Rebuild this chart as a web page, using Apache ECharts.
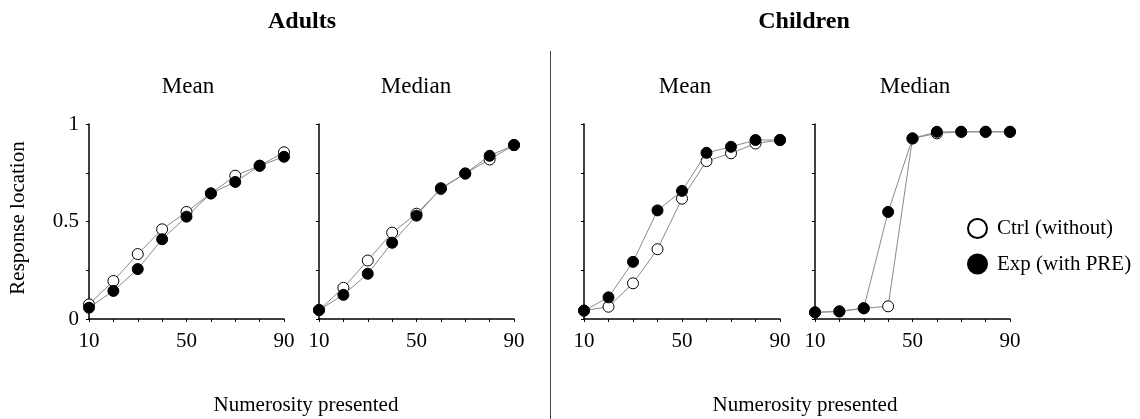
<!DOCTYPE html>
<html>
<head>
<meta charset="utf-8">
<script src="https://cdn.jsdelivr.net/npm/echarts@6/dist/echarts.min.js"></script>
<style>html,body{margin:0;padding:0;background:#fff}#c{width:1140px;height:419px}</style>
</head>
<body>
<div id="c"></div>
<script>
const numerosity = [10, 20, 30, 40, 50, 60, 70, 80, 90];
const xTickLabels = [10, 50, 90];
const yTickLabels = [0, 0.5, 1];
const seriesNames = ['Ctrl (without)', 'Exp (with PRE)'];
const groupTitles = ['Adults', 'Children'];
const panelTitles = ['Mean', 'Median', 'Mean', 'Median'];

const adultsMeanCtrl = [0.075, 0.195, 0.333, 0.46, 0.549, 0.644, 0.735, 0.786, 0.855];
const adultsMeanExp = [0.058, 0.144, 0.256, 0.409, 0.525, 0.644, 0.703, 0.786, 0.832];
const adultsMedianCtrl = [0.046, 0.16, 0.30, 0.443, 0.54, 0.667, 0.746, 0.818, 0.892];
const adultsMedianExp = [0.046, 0.124, 0.232, 0.391, 0.53, 0.671, 0.746, 0.837, 0.892];
const childrenMeanCtrl = [0.043, 0.063, 0.183, 0.358, 0.617, 0.81, 0.85, 0.9, 0.918];
const childrenMeanExp = [0.043, 0.111, 0.293, 0.557, 0.657, 0.852, 0.883, 0.918, 0.918];
const childrenMedianCtrl = [0.034, 0.039, 0.055, 0.065, 0.926, 0.952, 0.96, 0.96, 0.96];
const childrenMedianExp = [0.034, 0.039, 0.055, 0.549, 0.926, 0.96, 0.96, 0.96, 0.96];

const panels = [
  [adultsMeanCtrl, adultsMeanExp],
  [adultsMedianCtrl, adultsMedianExp],
  [childrenMeanCtrl, childrenMeanExp],
  [childrenMedianCtrl, childrenMedianExp]
];

const FONT = '"Liberation Serif", "Times New Roman", serif';
const gridLefts = [89, 319, 584, 815];
const gridWidths = [195, 195, 196, 195];

const grids = gridLefts.map((l, i) => ({ left: l, top: 124, width: gridWidths[i], height: 195 }));
const xAxes = gridLefts.map((l, i) => ({
  type: 'value', gridIndex: i, min: 10, max: 90, interval: 10,
  axisLine: { show: true, onZero: false, lineStyle: { color: '#000', width: 1.5 } },
  axisTick: { show: true, length: 3, lineStyle: { color: '#000', width: 1 } },
  splitLine: { show: false },
  axisLabel: {
    margin: 12, color: '#000', fontFamily: FONT, fontSize: 21,
    formatter: v => xTickLabels.indexOf(v) >= 0 ? String(v) : ''
  }
}));
const yAxes = gridLefts.map((l, i) => ({
  type: 'value', gridIndex: i, min: 0, max: 1, interval: 0.25,
  axisLine: { show: true, onZero: false, lineStyle: { color: '#000', width: 1.5 } },
  axisTick: { show: true, length: 3, lineStyle: { color: '#000', width: 1 } },
  splitLine: { show: false },
  axisLabel: {
    show: i === 0, margin: 10, color: '#000', fontFamily: FONT, fontSize: 21,
    formatter: v => yTickLabels.indexOf(v) >= 0 ? String(v) : ''
  }
}));

const series = [];
panels.forEach((pair, i) => {
  pair.forEach((vals, k) => {
    series.push({
      name: seriesNames[k], type: 'line', xAxisIndex: i, yAxisIndex: i,
      data: numerosity.map((x, j) => [x, vals[j]]),
      symbol: 'circle', symbolSize: 11,
      lineStyle: { color: '#8a8a8a', width: 1 },
      itemStyle: { color: k === 0 ? '#fff' : '#000', borderColor: '#000', borderWidth: 1 },
      z: 2 + k
    });
  });
});

const textG = (text, x, y, size, bold, rot) => ({
  type: 'text', x: x, y: y, rotation: rot || 0,
  style: { text: text, fill: '#000', font: (bold ? 'bold ' : '') + size + 'px ' + FONT,
           textAlign: 'center', textVerticalAlign: 'middle' }
});

const graphic = [
  textG(groupTitles[0], 302, 22, 24, true),
  textG(groupTitles[1], 804, 22, 24, true),
  textG(panelTitles[0], 188, 87, 23),
  textG(panelTitles[1], 416, 87, 23),
  textG(panelTitles[2], 685, 87, 23),
  textG(panelTitles[3], 915, 87, 23),
  textG('Numerosity presented', 306, 405, 21),
  textG('Numerosity presented', 805, 405, 21),
  textG('Response location', 18, 218, 21, false, Math.PI / 2),
  { type: 'line', shape: { x1: 550.5, y1: 51, x2: 550.5, y2: 419 }, style: { stroke: '#444', lineWidth: 1 } }
];

const chart = echarts.init(document.getElementById('c'));
chart.setOption({
  animation: false,
  backgroundColor: '#fff',
  grid: grids, xAxis: xAxes, yAxis: yAxes, series: series,
  legend: {
    data: seriesNames, orient: 'vertical', left: 962, top: 213,
    icon: 'circle', itemWidth: 19, itemHeight: 19, itemGap: 14.5,
    textStyle: { color: '#000', fontFamily: FONT, fontSize: 21, padding: [0, 0, 0, 5] },
    selectedMode: false
  },
  graphic: graphic
});
</script>
</body>
</html>
